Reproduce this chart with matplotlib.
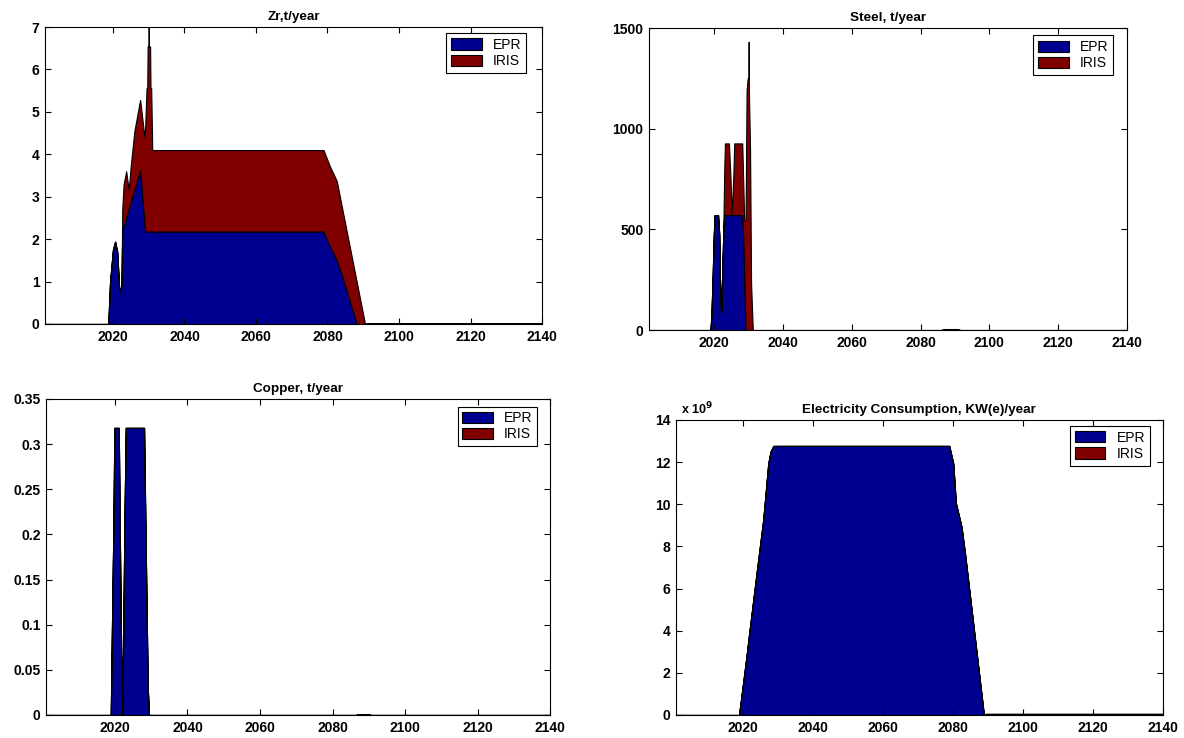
import matplotlib
matplotlib.use("Agg")
import matplotlib.pyplot as plt
from matplotlib.ticker import FuncFormatter

plt.rcParams["font.family"] = ["Liberation Sans", "DejaVu Sans"]

# 색상 (MATLAB area 기본색)
EPR_COLOR = "#000090"
IRIS_COLOR = "#800000"

# Zr, t/year
zr_years = [2001, 2018.7, 2019.2, 2020.0, 2020.6, 2021.2, 2021.8, 2022.4, 2022.6, 2023.0,
            2023.7, 2024.4, 2025.0, 2026.0, 2027.6, 2028.0, 2028.8, 2029.0, 2029.4, 2029.6,
            2029.7, 2029.98, 2030.0, 2030.02, 2030.4, 2030.5, 2030.7, 2031.0, 2078.9, 2080.7,
            2082.6, 2084.0, 2088.2, 2090.5, 2091.0, 2140]
zr_epr = [0, 0, 1.0, 1.75, 1.94, 1.7, 0.75, 0.9, 2.2, 2.31,
          2.51, 2.71, 2.89, 3.17, 3.63, 3.22, 2.39, 2.18, 2.18, 2.18,
          2.18, 2.18, 2.18, 2.18, 2.18, 2.18, 2.18, 2.18, 2.18, 1.82,
          1.5, 1.15, 0, 0, 0, 0]
zr_iris = [0, 0, 0, 0, 0, 0, 0, 0, 0.5, 0.99,
           1.09, 0.45, 0.86, 1.38, 1.65, 1.78, 2.03, 2.42, 3.38, 3.38,
           4.36, 4.36, 4.82, 4.36, 4.36, 3.38, 3.38, 1.92, 1.92, 1.89,
           1.87, 1.62, 0.98, 0, 0.02, 0.02]

# Steel, t/year
steel_years = [2001, 2018.9, 2019.2, 2019.55, 2019.85, 2020.1, 2021.1, 2021.45, 2021.6, 2021.95,
               2022.1, 2022.3, 2022.6, 2022.9, 2023.1, 2024.26, 2024.74, 2025.0, 2025.5, 2025.8,
               2028.13, 2028.4, 2028.7, 2028.95, 2029.1, 2029.4, 2029.7, 2029.95, 2030.0, 2030.05,
               2030.4, 2030.7, 2031.2, 2086.0, 2086.5, 2091.0, 2091.5, 2140]
steel_epr = [0, 0, 91, 282, 472, 571, 571, 472, 282, 91,
             91, 282, 472, 571, 571, 571, 571, 571, 571, 571,
             571, 472, 282, 91, 0, 0, 0, 0, 0, 0,
             0, 0, 0, 0, 0, 0, 0, 0]
steel_iris = [0, 0, 0, 0, 0, 0, 0, 0, 0, 0,
              0, 0, 0, 229, 356, 356, 174, 0, 174, 356,
              356, 273, 264, 455, 546, 1192, 1250, 1250, 1432, 1200,
              894, 232, 0, 0, 5, 5, 0, 0]

# Copper, t/year
cu_years = [2001, 2018.84, 2019.2, 2019.57, 2019.84, 2021.05, 2021.32, 2021.6, 2021.87, 2022.05,
            2022.33, 2022.6, 2022.98, 2028.03, 2028.4, 2028.77, 2029.05, 2029.4, 2086.5, 2087.0,
            2090.0, 2090.5, 2140]
cu_epr = [0, 0, 0.106, 0.21, 0.318, 0.318, 0.21, 0.106, 0.03, 0,
          0.106, 0.21, 0.318, 0.318, 0.21, 0.106, 0.03, 0, 0, 0.001,
          0.001, 0, 0]
cu_iris = [0] * len(cu_years)

# Electricity Consumption, KW(e)/year
el_years = [2001, 2019.0, 2021.0, 2021.9, 2024.0, 2025.9, 2027.35, 2028.0, 2028.8, 2079.0,
            2080.15, 2080.9, 2082.5, 2083.5, 2088.9, 2089.5, 2140]
el_epr = [0, 0, 2.61e9, 3.87e9, 6.72e9, 9.25e9, 11.94e9, 12.5e9, 12.77e9, 12.77e9,
          11.94e9, 10.05e9, 8.94e9, 7.67e9, 0, 0.05e9, 0.05e9]
el_iris = [0] * len(el_years)

xticks = [2020, 2040, 2060, 2080, 2100, 2120, 2140]

fig = plt.figure(figsize=(11.84, 7.38), dpi=100)
fig.patch.set_facecolor("white")


def draw(pos, years, epr, iris, title, ylim, yticks, leg_anchor, scale=1.0):
    ax = fig.add_axes(pos)
    ax.stackplot(years, epr, iris, colors=[EPR_COLOR, IRIS_COLOR],
                 labels=["EPR", "IRIS"], edgecolor="black", linewidth=0.8)
    ax.set_xlim(2001, 2140)
    ax.set_ylim(*ylim)
    ax.set_xticks(xticks)
    ax.set_yticks(yticks)
    ax.yaxis.set_major_formatter(FuncFormatter(lambda v, p: "%g" % round(v / scale, 6)))
    ax.tick_params(direction="in", length=4, width=0.8, top=True, right=True,
                   labelsize=10, pad=4)
    for lab in ax.get_xticklabels() + ax.get_yticklabels():
        lab.set_fontweight("bold")
    for sp in ax.spines.values():
        sp.set_linewidth(0.8)
    ax.set_title(title, fontsize=9.7, fontweight="bold", pad=5)
    ax.legend(loc="upper right", bbox_to_anchor=leg_anchor, borderaxespad=0,
              fancybox=False, edgecolor="black", framealpha=1, fontsize=10,
              handlelength=2.2, handleheight=0.85, handletextpad=0.8,
              labelspacing=0.15, borderpad=0.35)
    ax.get_legend().get_frame().set_linewidth(0.8)
    return ax


draw([0.0380, 0.5610, 0.4198, 0.4024], zr_years, zr_epr, zr_iris,
     "Zr,t/year", (0, 7), range(0, 8), (0.968, 0.980))
draw([0.5481, 0.5528, 0.4037, 0.4092], steel_years, steel_epr, steel_iris,
     "Steel, t/year", (0, 1500), [0, 500, 1000, 1500], (0.971, 0.977))
draw([0.0389, 0.0312, 0.4257, 0.4282], cu_years, cu_epr, cu_iris,
     "Copper, t/year", (0, 0.35), [0, 0.05, 0.1, 0.15, 0.2, 0.25, 0.3, 0.35], (0.975, 0.976))
ax4 = draw([0.5709, 0.0312, 0.4113, 0.3997], el_years, el_epr, el_iris,
           "Electricity Consumption, KW(e)/year", (0, 14e9),
           [i * 1e9 for i in range(0, 15, 2)], (0.973, 0.980), scale=1e9)
ax4.text(0.01, 1.01, r"x 10$^{\mathbf{9}}$", transform=ax4.transAxes,
         fontsize=9, fontweight="bold", ha="left", va="bottom")

fig.savefig("out.png", dpi=100, facecolor="white")
